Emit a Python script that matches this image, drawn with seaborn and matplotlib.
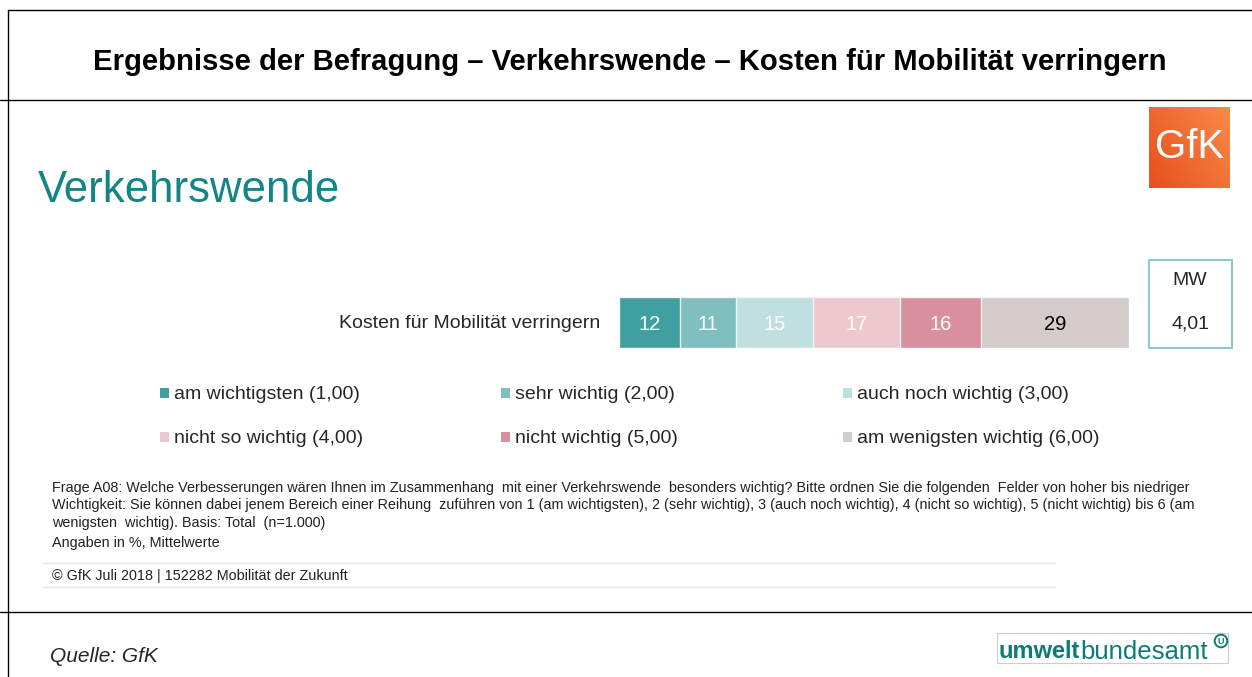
import numpy as np
import pandas as pd
import matplotlib
matplotlib.use('Agg')
import matplotlib.pyplot as plt
from matplotlib.lines import Line2D
from matplotlib.patches import Rectangle
import seaborn as sns

# data
category = 'Kosten für Mobilität verringern'
levels = ['am wichtigsten (1,00)', 'sehr wichtig (2,00)', 'auch noch wichtig (3,00)',
          'nicht so wichtig (4,00)', 'nicht wichtig (5,00)', 'am wenigsten wichtig (6,00)']
values = [12, 11, 15, 17, 16, 29]
colors = ['#409f9f', '#80bfbf', '#bfe0df', '#eec8cf', '#da8f9e', '#d4cbcb']
label_colors = ['white', 'white', 'white', 'white', 'white', 'black']
mean_value = '4,01'

W, H = 1252, 677


def fx(x):
    return x / W


def fy(y):
    return 1 - y / H


def hline(fig, x0, x1, y, color='black', lw=1.0):
    fig.add_artist(Line2D([fx(x0), fx(x1)], [fy(y), fy(y)], color=color, lw=lw,
                          transform=fig.transFigure))


def vline(fig, x, y0, y1, color='black', lw=1.0):
    fig.add_artist(Line2D([fx(x), fx(x)], [fy(y0), fy(y1)], color=color, lw=lw,
                          transform=fig.transFigure))


def box(fig, x0, y0, x1, y1, fc, ec='none', lw=1.0):
    fig.add_artist(Rectangle((fx(x0), fy(y1)), fx(x1) - fx(x0), fy(y0) - fy(y1),
                             facecolor=fc, edgecolor=ec, lw=lw, transform=fig.transFigure))


def main():
    sns.set_theme(style='white')
    plt.rcParams['font.family'] = ['Liberation Sans', 'DejaVu Sans']

    fig = plt.figure(figsize=(W / 100, H / 100), dpi=100)
    fig.patch.set_facecolor('white')

    # frame
    hline(fig, 8, 1252, 10)
    hline(fig, 0, 1252, 100)
    hline(fig, 0, 1252, 612)
    vline(fig, 8, 10, 677)

    fig.text(fx(630), fy(62), 'Ergebnisse der Befragung – Verkehrswende – Kosten für Mobilität verringern',
             ha='center', va='center', fontsize=21.1, fontweight='bold', color='black')
    fig.text(fx(38), fy(191), 'Verkehrswende', ha='left', va='center', fontsize=31.5,
             color='#138585')

    # GfK logo
    lax = fig.add_axes([fx(1149), fy(188), fx(1230) - fx(1149), fy(107) - fy(188)])
    grad = np.linspace(0, 1, 64)
    gx, gy = np.meshgrid(grad, grad)
    lax.imshow(0.6 * gx + 0.4 * (1 - gy), cmap=sns.blend_palette(['#e84f1c', '#f88a4a'], as_cmap=True),
               aspect='auto', extent=[0, 1, 0, 1])
    lax.text(0.5, 0.5, 'GfK', color='white', ha='center', va='center', fontsize=29)
    lax.set_axis_off()

    # stacked bar
    ax = fig.add_axes([fx(619), fy(348), fx(1129) - fx(619), fy(297) - fy(348)])
    cum = np.cumsum(values)
    for i in range(len(values) - 1, -1, -1):
        df = pd.DataFrame({'kat': [category], 'wert': [cum[i]]})
        sns.barplot(data=df, x='wert', y='kat', orient='h', color=colors[i], width=1.0,
                    saturation=1, edgecolor='#f4f4f4', linewidth=1.0, ax=ax)
    starts = np.concatenate([[0], cum[:-1]])
    for s, v, c in zip(starts, values, label_colors):
        ax.text(s + v / 2, 0.03, str(v), ha='center', va='center', fontsize=14.5, color=c)
    ax.set_xlim(0, 100)
    ax.set_ylim(0.5, -0.5)
    ax.set_axis_off()

    fig.text(fx(600), fy(324), category, ha='right', va='center', fontsize=14)

    # MW box
    box(fig, 1149, 260, 1232, 348, 'white', ec='#8ec9c8', lw=1.5)
    fig.text(fx(1190), fy(280), 'MW', ha='center', va='center', fontsize=14)
    fig.text(fx(1190), fy(324), mean_value, ha='center', va='center', fontsize=14)

    # legend
    col_x = [160, 501, 843]
    row_y = [393, 437]
    for k, (lab, col) in enumerate(zip(levels, colors)):
        x = col_x[k % 3]
        y = row_y[k // 3]
        box(fig, x, y - 5, x + 9, y + 5, col)
        fig.text(fx(x + 14), fy(y + 1.5), lab, ha='left', va='center', fontsize=14)

    # footnotes
    notes = [
        'Frage A08: Welche Verbesserungen wären Ihnen im Zusammenhang  mit einer Verkehrswende  besonders wichtig? Bitte ordnen Sie die folgenden  Felder von hoher bis niedriger',
        'Wichtigkeit: Sie können dabei jenem Bereich einer Reihung  zuführen von 1 (am wichtigsten), 2 (sehr wichtig), 3 (auch noch wichtig), 4 (nicht so wichtig), 5 (nicht wichtig) bis 6 (am',
        'wenigsten  wichtig). Basis: Total  (n=1.000)',
    ]
    for j, line in enumerate(notes):
        fig.text(fx(52), fy(488 + 17.5 * j), line, ha='left', va='center', fontsize=10.4, color='#222222')
    fig.text(fx(52), fy(543), 'Angaben in %, Mittelwerte', ha='left', va='center', fontsize=10.4,
             color='#222222')
    hline(fig, 42, 1055, 563, color='#e6e6e6')
    hline(fig, 42, 1055, 587, color='#e6e6e6')
    fig.text(fx(52), fy(576), '© GfK Juli 2018 | 152282 Mobilität der Zukunft', ha='left', va='center',
             fontsize=10.4, color='#222222')

    # bottom
    fig.text(fx(50), fy(656), 'Quelle: GfK', ha='left', va='center', fontsize=15, style='italic')
    box(fig, 997, 633, 1228, 663, 'white', ec='#cccccc', lw=0.8)
    fig.text(fx(999), fy(652), 'umwelt', ha='left', va='center', fontsize=17, fontweight='bold',
             color='#0e7b74')
    fig.text(fx(1080), fy(652), 'bundesamt', ha='left', va='center', fontsize=18.5, color='#0e7b74')
    fig.text(fx(1221), fy(641), 'U', ha='center', va='center', fontsize=6.5, fontweight='bold',
             color='#0e7b74',
             bbox=dict(boxstyle='circle,pad=0.2', fc='white', ec='#0e7b74', lw=1.4))

    fig.savefig('out.png', dpi=100, facecolor='white')


if __name__ == '__main__':
    main()
